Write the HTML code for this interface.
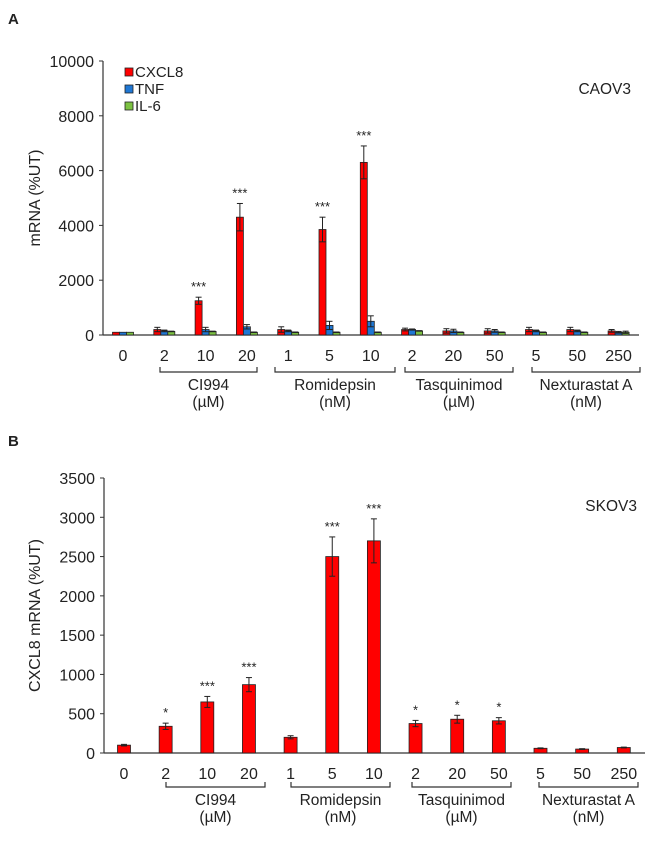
<!DOCTYPE html>
<html><head><meta charset="utf-8"><style>
body{margin:0;background:#fff;}
svg text{font-family:"Liberation Sans",Arial,sans-serif;fill:#222;}
</style></head><body>
<svg id="fig" width="650" height="837" xmlns="http://www.w3.org/2000/svg"></svg>
<script>
const doseLabels=["0","2","10","20","1","5","10","2","20","50","5","50","250"];
const groupNames=["CI994","Romidepsin","Tasquinimod","Nexturastat A"];
const groupUnits=["(\u00b5M)","(nM)","(\u00b5M)","(nM)"];
const aCXCL8=[100,200,1250,4300,200,3850,6300,200,150,150,200,200,150];
const aCXCL8Err=[0,80,130,500,100,450,600,50,80,80,80,80,50];
const aTNF=[100,150,200,300,150,350,500,200,150,150,150,150,100];
const aTNFErr=[0,30,80,80,30,150,200,20,60,50,30,30,30];
const aIL6=[100,130,130,100,100,100,100,150,100,100,100,100,100];
const aIL6Err=[0,10,10,10,10,10,10,10,10,10,10,10,40];
const aSig=["","","***","***","","***","***","","","","","",""];
const bCXCL8=[100,340,650,870,200,2500,2700,375,430,410,60,50,70];
const bErr=[10,40,70,90,20,250,280,40,50,40,5,5,5];
const bSig=["","*","***","***","","***","***","*","*","*","","",""];
const aTicks=[0,2000,4000,6000,8000,10000];
const bTicks=[0,500,1000,1500,2000,2500,3000,3500];

const svg=document.getElementById('fig');
const NS="http://www.w3.org/2000/svg";
function mk(tag,attrs,name,txt){const e=document.createElementNS(NS,tag);for(const k in attrs)e.setAttribute(k,attrs[k]);


if(txt!==undefined)e.textContent=txt;svg.appendChild(e);return e;}

function panel(o){
  const y=v=>o.y0-(v/o.max)*(o.y0-o.yTop);
  const x=i=>o.x0+o.step*i;
  mk('line',{x1:o.axX,y1:o.yTop,x2:o.axX,y2:o.y0,stroke:'#333','stroke-width':1.2},o.p+'-y-axis');
  mk('line',{x1:o.axX,y1:o.y0,x2:o.axEnd,y2:o.y0,stroke:'#333','stroke-width':1.2},o.p+'-x-axis');
  o.ticks.forEach(t=>{mk('line',{x1:o.axX-4,y1:y(t),x2:o.axX,y2:y(t),stroke:'#333'},o.p+'-y-tick');
    mk('text',{x:o.axX-9,y:y(t)+6,'text-anchor':'end','font-size':16},o.p+'-y-tick-label',String(t));});
  const yc=(o.y0+o.yTop)/2;
  mk('text',{x:o.titleX,y:yc,'text-anchor':'middle','font-size':16,transform:`rotate(-90 ${o.titleX} ${yc})`},o.p+'-y-axis-title',o.title);
  doseLabels.forEach((d,i)=>mk('text',{x:x(i),y:o.y0+26,'text-anchor':'middle','font-size':16},o.p+'-x-tick-label',d));
  o.series.forEach((s,si)=>{
    const off=(si-(o.series.length-1)/2)*o.bw;
    s.vals.forEach((v,i)=>{
      const cx=x(i)+off;
      mk('rect',{x:cx-o.bw/2,y:y(v),width:o.bw,height:o.y0-y(v),fill:s.color,stroke:'#222','stroke-width':0.8},o.p+'-bar-'+s.name);
      const e=s.err[i];
      if(e>0){mk('line',{x1:cx,y1:y(v+e),x2:cx,y2:y(Math.max(0,v-e)),stroke:'#222'},o.p+'-error-bar');
        mk('line',{x1:cx-3,y1:y(v+e),x2:cx+3,y2:y(v+e),stroke:'#222'},o.p+'-error-cap');
        mk('line',{x1:cx-3,y1:y(Math.max(0,v-e)),x2:cx+3,y2:y(Math.max(0,v-e)),stroke:'#222'},o.p+'-error-cap');}
    });
  });
  const s0=o.series[0];
  o.sig.forEach((s,i)=>{if(s){const cx=x(i)+(-(o.series.length-1)/2)*o.bw;
    mk('text',{x:cx,y:y(s0.vals[i]+s0.err[i])-6,'text-anchor':'middle','font-size':13},o.p+'-significance',s);}});
  o.brackets.forEach((b,gi)=>{
    mk('path',{d:`M${b[0]} ${o.brY-5}V${o.brY}H${b[1]}V${o.brY-5}`,fill:'none',stroke:'#333','stroke-width':1.2},o.p+'-bracket');
    const m=(b[0]+b[1])/2;
    mk('text',{x:m,y:o.brY+18,'text-anchor':'middle','font-size':15.5},o.p+'-group-label',groupNames[gi]);
    mk('text',{x:m,y:o.brY+35,'text-anchor':'middle','font-size':15.5},o.p+'-group-unit',groupUnits[gi]);
  });
  mk('text',{x:o.axEnd-8,y:o.yTop+33,'text-anchor':'end','font-size':15.5},o.p+'-cell-line',o.cell);
}
mk('text',{x:8,y:24,'font-size':15,'font-weight':'bold'},'panel-a-letter','A');
mk('text',{x:8,y:446,'font-size':15,'font-weight':'bold'},'panel-b-letter','B');
panel({p:'a',y0:335,yTop:61,max:10000,axX:103,axEnd:639,x0:123,step:41.3,bw:7,ticks:aTicks,title:'mRNA (%UT)',titleX:40,
  series:[{name:'cxcl8',vals:aCXCL8,err:aCXCL8Err,color:'#ff0000'},{name:'tnf',vals:aTNF,err:aTNFErr,color:'#1f77d4'},{name:'il6',vals:aIL6,err:aIL6Err,color:'#7cc242'}],
  sig:aSig,brackets:[[160,257],[275,395],[405,513],[532,640]],brY:372,cell:'CAOV3'});
panel({p:'b',y0:753,yTop:478,max:3500,axX:104,axEnd:645,x0:124,step:41.65,bw:13,ticks:bTicks,title:'CXCL8 mRNA (%UT)',titleX:40,
  series:[{name:'cxcl8',vals:bCXCL8,err:bErr,color:'#ff0000'}],
  sig:bSig,brackets:[[166,265],[291,390],[412,511],[539,638]],brY:787,cell:'SKOV3'});
// legend
[['CXCL8','#ff0000'],['TNF','#1f77d4'],['IL-6','#7cc242']].forEach((l,i)=>{
  mk('rect',{x:125,y:68+i*17,width:8,height:8,fill:l[1],stroke:'#222','stroke-width':0.8},'legend-swatch-'+l[0].toLowerCase());
  mk('text',{x:135,y:77+i*17,'font-size':15},'legend-entry-'+l[0].toLowerCase(),l[0]);
});
</script>
</body></html>
